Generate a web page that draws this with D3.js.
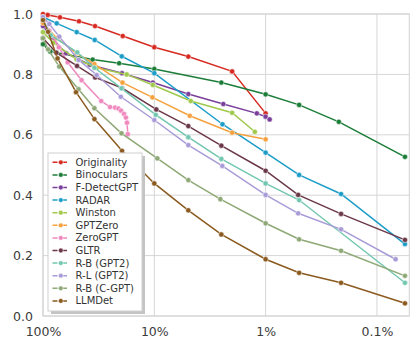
<!DOCTYPE html>
<html>
<head>
<meta charset="utf-8">
<script src="https://cdn.jsdelivr.net/npm/d3@7"></script>
<style>
  body { margin: 0; background: #fff; }
  text { font-family: "DejaVu Sans", sans-serif; }
</style>
</head>
<body>
<script>
// detector names, in legend order
var methods = ["Originality", "Binoculars", "F-DetectGPT", "RADAR", "Winston", "GPTZero",
               "ZeroGPT", "GLTR", "R-B (GPT2)", "R-L (GPT2)", "R-B (C-GPT)", "LLMDet"];

// [false positive rate (%), true positive rate] per detector
var originality = [[100, 1.0], [90.7, 0.997], [70.4, 0.989], [47.5, 0.976], [34.1, 0.960], [19.2, 0.927],
                   [10, 0.890], [4.95, 0.859], [2.0, 0.810], [1.0, 0.671]];
var binoculars = [[100, 0.90], [86, 0.876], [35.8, 0.849], [20.7, 0.837], [10, 0.818], [2.5, 0.773],
                  [1.0, 0.734], [0.5, 0.699], [0.22, 0.643], [0.056, 0.527]];
var fdetectgpt = [[100, 0.96], [85, 0.925], [62, 0.87], [38, 0.832], [19.5, 0.804], [10.3, 0.773],
                  [4.95, 0.735], [2.4, 0.702], [1.2, 0.671], [1.0, 0.660], [0.92, 0.651]];
var radar = [[100, 0.99], [75.3, 0.969], [49.8, 0.940], [34.3, 0.914], [19.6, 0.860], [10, 0.804],
             [2.44, 0.635], [1.0, 0.541], [0.5, 0.467], [0.21, 0.404], [0.056, 0.238]];
var winston = [[100, 0.94], [80.8, 0.905], [50, 0.85], [33, 0.822], [17.7, 0.800], [10.3, 0.765],
               [4.7, 0.712], [2.0, 0.673], [1.25, 0.610]];
var gptzero = [[100, 0.97], [75, 0.92], [50, 0.87], [34.5, 0.834], [19.3, 0.773], [10.4, 0.724],
               [4.8, 0.663], [2.0, 0.607], [1.0, 0.585]];
var zerogpt = [[100, 0.98], [88, 0.945], [72, 0.89], [60, 0.84], [45, 0.781], [30, 0.712], [25, 0.692],
               [22.5, 0.690], [21, 0.687], [19.9, 0.680], [18.7, 0.669], [18.0, 0.657], [17.6, 0.640], [17.3, 0.602]];
var gltr = [[100, 0.92], [75.8, 0.872], [49.5, 0.828], [34, 0.79], [19.5, 0.755], [9.6, 0.684],
            [4.95, 0.629], [2.5, 0.564], [1.0, 0.481], [0.51, 0.401], [0.21, 0.338], [0.056, 0.252]];
var rbGpt2 = [[100, 0.98], [85, 0.93], [49.2, 0.873], [34.5, 0.822], [19.7, 0.754], [9.7, 0.666],
              [4.95, 0.592], [2.5, 0.520], [1.0, 0.439], [0.5, 0.384], [0.056, 0.110]];
var rlGpt2 = [[100, 0.99], [87.8, 0.967], [71.4, 0.925], [47.8, 0.848], [32.9, 0.798], [20, 0.726],
              [10, 0.649], [4.95, 0.566], [2.45, 0.497], [1.0, 0.401], [0.51, 0.340], [0.21, 0.287], [0.068, 0.188]];
var rbCgpt = [[100, 0.92], [90, 0.883], [71.4, 0.826], [48, 0.751], [34.5, 0.688], [19.7, 0.605],
              [9.4, 0.522], [4.95, 0.450], [2.55, 0.387], [1.0, 0.307], [0.5, 0.254], [0.21, 0.216], [0.056, 0.133]];
var llmdet = [[100, 0.98], [90, 0.941], [74, 0.853], [50.5, 0.741], [34.5, 0.652], [19.5, 0.547],
              [10, 0.439], [4.95, 0.350], [2.5, 0.270], [1.0, 0.188], [0.5, 0.143], [0.21, 0.110], [0.056, 0.042]];

var curves = [originality, binoculars, fdetectgpt, radar, winston, gptzero,
              zerogpt, gltr, rbGpt2, rlGpt2, rbCgpt, llmdet];

var xTicks = [100, 10, 1, 0.1];
var xTickLabels = ["100%", "10%", "1%", "0.1%"];
var yTicks = [0, 0.2, 0.4, 0.6, 0.8, 1.0];

var colors = ["#d62a22", "#1b7d38", "#7a3f9a", "#1c9dc8", "#a0c94c", "#f5a23e",
              "#ef88bd", "#6b3848", "#72c7b0", "#a89bd8", "#8ea876", "#8b5a1f"];

var width = 420, height = 347;

var svg = d3.select("body").append("svg")
    .attr("width", width)
    .attr("height", height);

// log scale running from 100% down to ~0.05%
var x = d3.scaleLog().domain([100, 0.0512]).range([43, 409.3]);
var y = d3.scaleLinear().domain([0, 1]).range([316, 14]);

// grid lines
svg.append("g").selectAll("line.hgrid").data(yTicks).enter()
    .append("line")
    .attr("x1", x.range()[0]).attr("x2", x.range()[1])
    .attr("y1", function(d){ return y(d); }).attr("y2", function(d){ return y(d); })
    .attr("stroke", "#d6d6d6").attr("stroke-width", 1);

svg.append("g").selectAll("line.vgrid").data(xTicks).enter()
    .append("line")
    .attr("x1", function(d){ return x(d); }).attr("x2", function(d){ return x(d); })
    .attr("y1", y(0)).attr("y2", y(1))
    .attr("stroke", "#d6d6d6").attr("stroke-width", 1);

// frame
svg.append("rect")
    .attr("x", x.range()[0]).attr("y", y(1))
    .attr("width", x.range()[1] - x.range()[0]).attr("height", y(0) - y(1))
    .attr("fill", "none").attr("stroke", "#d2d2d2").attr("stroke-width", 1);

// axes, only labels (no tick marks or domain line)
var xAxis = d3.axisBottom(x).tickValues(xTicks).tickSize(0).tickPadding(11)
    .tickFormat(function(d, i){ return xTickLabels[i]; });
var yAxis = d3.axisLeft(y).tickValues(yTicks).tickSize(0).tickPadding(10)
    .tickFormat(d3.format(".1f"));

var gx = svg.append("g").attr("transform", "translate(0," + y(0) + ")").call(xAxis);
var gy = svg.append("g").attr("transform", "translate(" + x.range()[0] + ",0)").call(yAxis);
[gx, gy].forEach(function(g){
    g.select(".domain").remove();
    g.selectAll("text").attr("font-size", 12.5).attr("fill", "#3b3b3b")
        .style("font-family", "DejaVu Sans, sans-serif");
});

var line = d3.line()
    .x(function(d){ return x(d[0]); })
    .y(function(d){ return y(d[1]); });

// one line + markers for every detector
curves.forEach(function(c, i){
    var g = svg.append("g");
    g.append("path")
        .attr("d", line(c))
        .attr("fill", "none")
        .attr("stroke", colors[i])
        .attr("stroke-width", 1.5);
    g.selectAll("circle").data(c).enter()
        .append("circle")
        .attr("cx", function(d){ return x(d[0]); })
        .attr("cy", function(d){ return y(d[1]); })
        .attr("r", 2.6)
        .attr("fill", colors[i])
        .attr("stroke", "#fff")
        .attr("stroke-width", 0.5);
});

// legend box with a drop shadow
var lg = svg.append("g").attr("transform", "translate(48,153)");
lg.append("rect")
    .attr("x", 3).attr("y", 3).attr("width", 94).attr("height", 158)
    .attr("fill", "#c4c4c4");
lg.append("rect")
    .attr("x", 0).attr("y", 0).attr("width", 94).attr("height", 158)
    .attr("fill", "#fff").attr("stroke", "#d0d0d0").attr("stroke-width", 1);

var items = lg.selectAll("g.item").data(methods).enter()
    .append("g")
    .attr("transform", function(d, i){ return "translate(0," + (9.3 + i * 12.6) + ")"; });

items.append("line")
    .attr("x1", 4.5).attr("x2", 21)
    .attr("stroke", function(d, i){ return colors[i]; })
    .attr("stroke-width", 1.5)
    .attr("stroke-dasharray", "5,4.5");
items.append("circle")
    .attr("cx", 12.8).attr("r", 2.4)
    .attr("fill", function(d, i){ return colors[i]; })
    .attr("stroke", "#fff").attr("stroke-width", 0.5);
items.append("text")
    .attr("x", 27.5).attr("dy", "0.35em")
    .attr("font-size", 10)
    .attr("fill", "#333")
    .text(function(d){ return d; });
</script>
</body>
</html>
